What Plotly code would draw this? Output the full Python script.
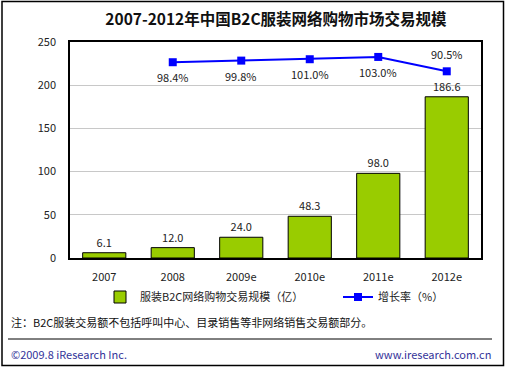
import plotly.graph_objects as go

years = ["2007", "2008", "2009e", "2010e", "2011e", "2012e"]
scale = [6.1, 12.0, 24.0, 48.3, 98.0, 186.6]
scale_labels = ["6.1", "12.0", "24.0", "48.3", "98.0", "186.6"]
growth_years = ["2008", "2009e", "2010e", "2011e", "2012e"]
growth = [98.4, 99.8, 101.0, 103.0, 90.5]
growth_labels = ["98.4%", "99.8%", "101.0%", "103.0%", "90.5%"]
growth_label_shift = [-15, -15, -15, -15, 17]
y_ticks = [0, 50, 100, 150, 200, 250]

FONT = "Noto Sans CJK SC"
W, H = 506, 367
L, R, T, B = 70, 25, 42, 109
PW, PH = W - L - R, H - T - B

def px(x):
    return (x - L) / PW

def py(y):
    return (H - B - y) / PH

fig = go.Figure()
fig.add_trace(go.Bar(
    x=years, y=scale, name="服装B2C网络购物交易规模（亿）",
    marker=dict(color="#99CC00", line=dict(color="#000000", width=1)),
    width=0.63, text=scale_labels, textposition="outside",
    textfont=dict(size=11, color="#222222", family=FONT), cliponaxis=False,
    legend="legend",
))
fig.add_trace(go.Scatter(
    x=growth_years, y=growth, name="增长率（%）", yaxis="y2",
    mode="lines+markers",
    line=dict(color="#0000FF", width=2),
    marker=dict(symbol="square", size=8, color="#0000FF"),
    cliponaxis=False,
    legend="legend2",
))
for xv, yv, lab, sh in zip(growth_years, growth, growth_labels, growth_label_shift):
    fig.add_annotation(x=years.index(xv), y=yv, xref="x", yref="y2", text=lab,
                       showarrow=False, yshift=sh,
                       font=dict(size=11, color="#222222", family=FONT))

fig.update_layout(
    width=W, height=H,
    margin=dict(l=L, r=R, t=T, b=B, autoexpand=False),
    paper_bgcolor="white", plot_bgcolor="white",
    font=dict(family=FONT, size=11, color="#222222"),
    title=dict(text="<b>2007-2012年中国B2C服装网络购物市场交易规模</b>",
               x=276 / W, xanchor="center", y=1 - 20 / H, yanchor="middle",
               font=dict(size=15.5, color="#111111", family=FONT)),
    xaxis=dict(type="category", categoryorder="array", categoryarray=years,
               range=[-0.5, len(years) - 0.5],
               showgrid=False, showline=True, linecolor="#000000", linewidth=1.5,
               mirror=True, ticks="", ticklabelstandoff=8,
               tickfont=dict(size=11, color="#222222")),
    yaxis=dict(range=[0, 250], tickvals=y_ticks, showgrid=True, gridcolor="#C8C8C8",
               gridwidth=1, showline=True, linecolor="#000000", linewidth=1.5,
               mirror=True, ticks="", ticklabelstandoff=10, zeroline=False,
               tickfont=dict(size=11, color="#222222")),
    yaxis2=dict(range=[-72, 116], overlaying="y", side="right", visible=False),
    showlegend=True,
    legend=dict(orientation="h", x=100 / W, xref="container", xanchor="left",
                y=1 - 297 / H, yref="container", yanchor="middle",
                font=dict(size=11, color="#222222"), itemwidth=30,
                bgcolor="rgba(0,0,0,0)"),
    legend2=dict(orientation="h", x=338 / W, xref="container", xanchor="left",
                 y=1 - 297 / H, yref="container", yanchor="middle",
                 font=dict(size=11, color="#222222"), itemwidth=30,
                 bgcolor="rgba(0,0,0,0)"),
)

fig.add_annotation(text="注：B2C服装交易额不包括呼叫中心、目录销售等非网络销售交易额部分。",
                   xref="paper", yref="paper", x=px(9), y=py(322), xanchor="left",
                   yanchor="middle", showarrow=False, font=dict(size=11, color="#111111"))
fig.add_annotation(text="©2009.8 iResearch Inc.", xref="paper", yref="paper",
                   x=px(9), y=py(354), xanchor="left", yanchor="middle", showarrow=False,
                   font=dict(size=11, color="#333399"))
fig.add_annotation(text="www.iresearch.com.cn", xref="paper", yref="paper",
                   x=px(493), y=py(354), xanchor="right", yanchor="middle", showarrow=False,
                   font=dict(size=11, color="#333399"))
fig.add_shape(type="line", xref="paper", yref="paper", x0=px(8), x1=px(492),
              y0=py(339), y1=py(339), line=dict(color="#000000", width=1))
fig.add_shape(type="rect", xref="paper", yref="paper", x0=px(2), x1=px(503.5),
              y0=py(365.5), y1=py(1.5), line=dict(color="#000000", width=1.5))

fig.write_html("out.html", config={"displayModeBar": False},
               post_script="document.body.style.margin='0';document.body.style.overflow='hidden';")
